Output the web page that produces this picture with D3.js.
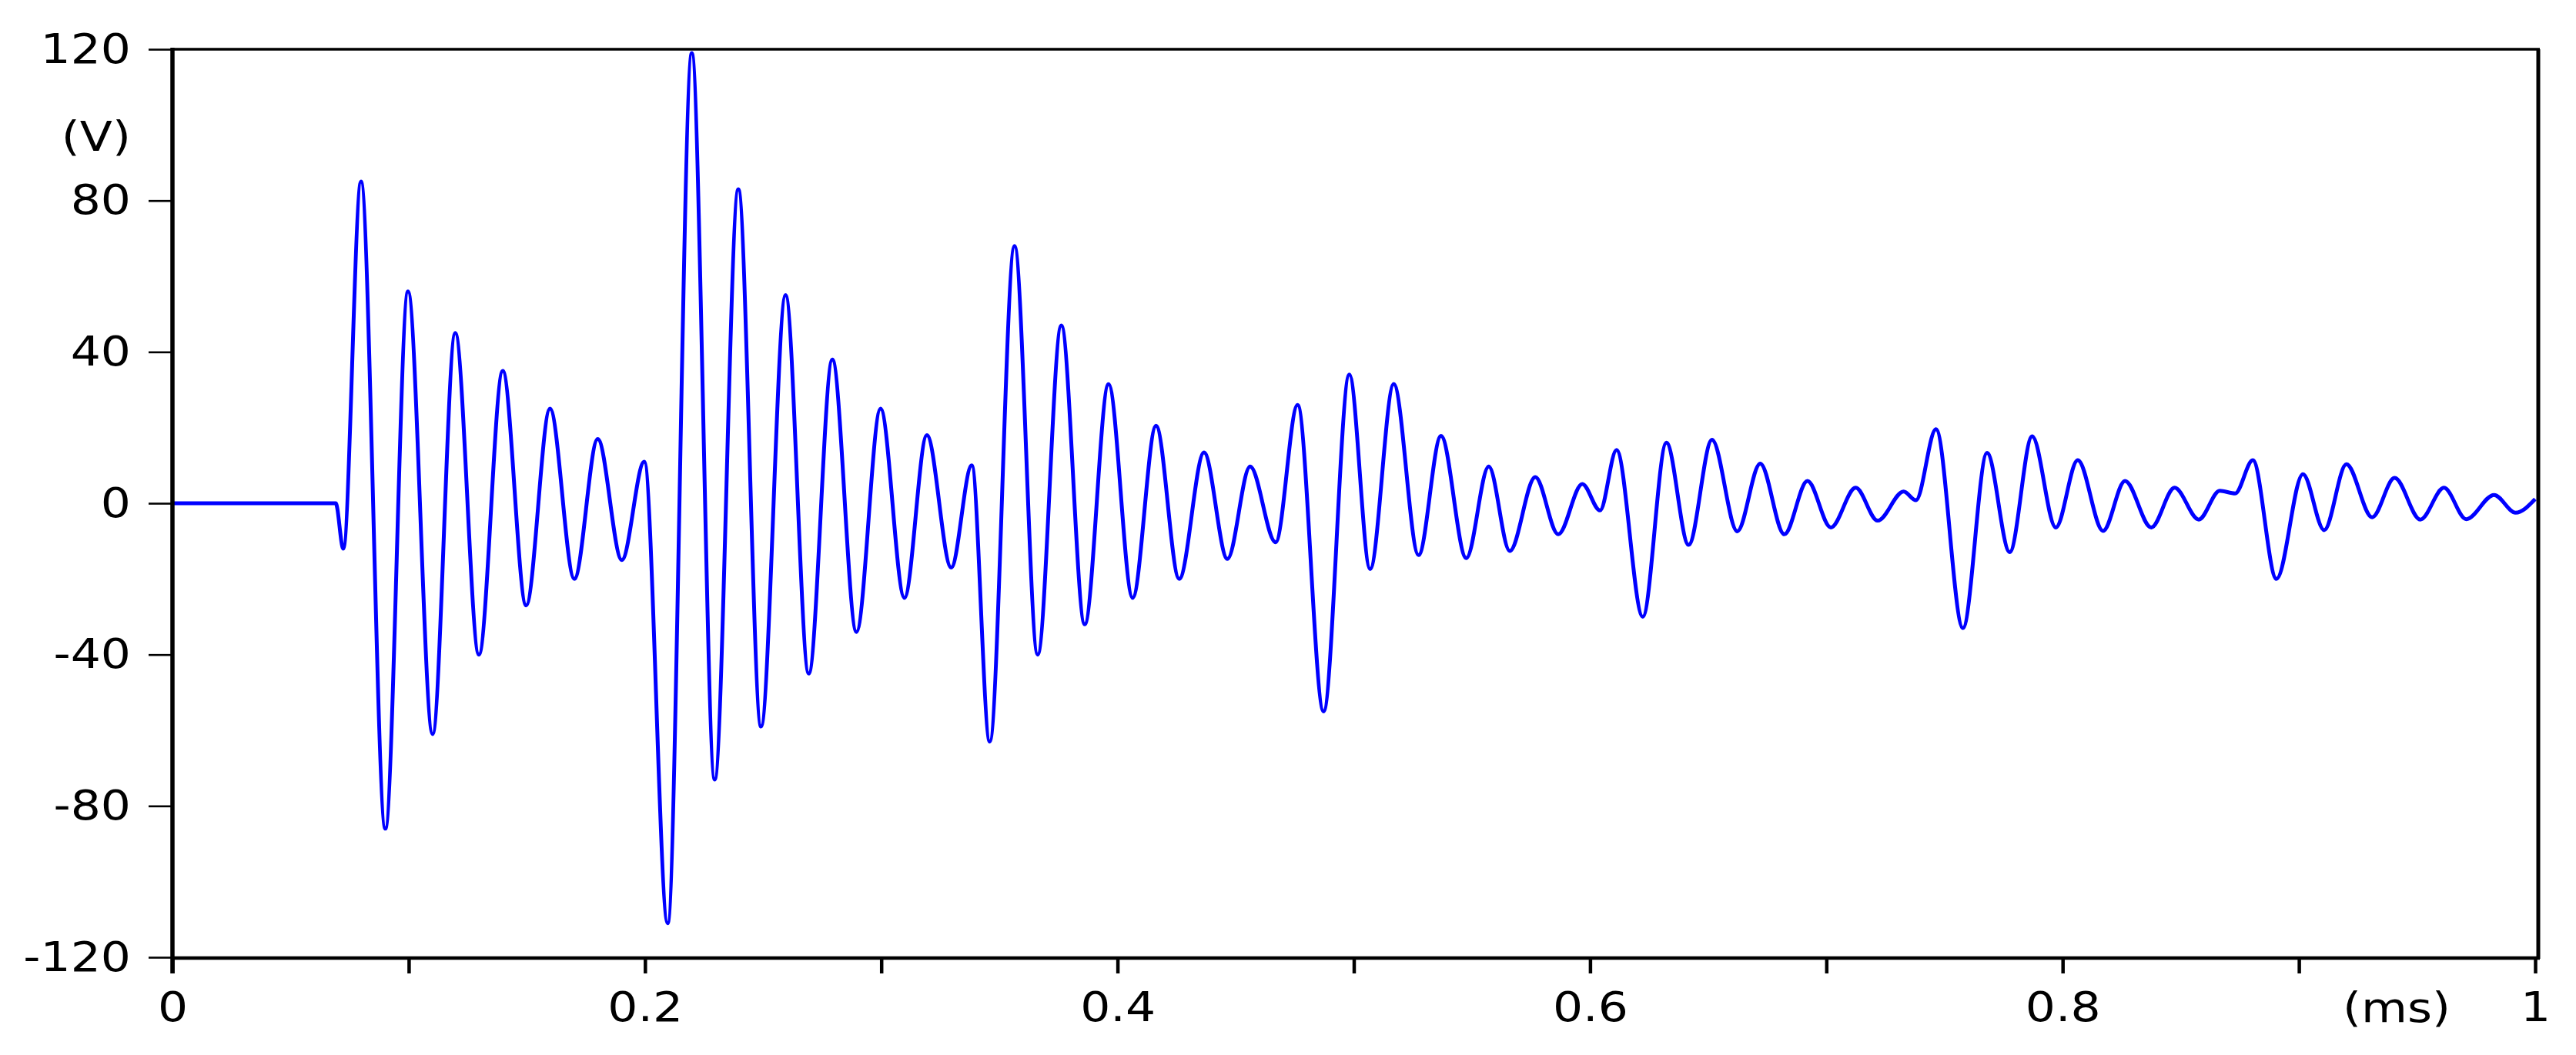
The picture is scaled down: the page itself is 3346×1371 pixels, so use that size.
<!DOCTYPE html>
<html>
<head>
<meta charset="utf-8">
<script src="https://cdn.jsdelivr.net/npm/d3@7"></script>
<style>
  html, body { margin: 0; padding: 0; background: #ffffff; }
  svg { display: block; }
</style>
</head>
<body>
<svg id="chart" width="3346" height="1371"></svg>
<script>
// ---- data ----
const timeMs = [0, 0.0691, 0.0723, 0.0798, 0.0901, 0.0997, 0.1101, 0.1197, 0.1297, 0.1398,
  0.1497, 0.1598, 0.1701, 0.1800, 0.1902, 0.1997, 0.2096, 0.2198, 0.2295, 0.2395,
  0.2491, 0.2595, 0.2693, 0.2793, 0.2895, 0.2997, 0.3098, 0.3193, 0.3296, 0.3383,
  0.3459, 0.3564, 0.3662, 0.3762, 0.3861, 0.3962, 0.4064, 0.4163, 0.4261, 0.4366,
  0.4465, 0.4561, 0.4669, 0.4762, 0.4872, 0.4981, 0.5069, 0.5169, 0.5274, 0.5369,
  0.5476, 0.5571, 0.5660, 0.5768, 0.5865, 0.5967, 0.6042, 0.6112, 0.6223, 0.6323,
  0.6417, 0.6516, 0.6623, 0.6720, 0.6822, 0.6920, 0.7019, 0.7124, 0.7217, 0.7327,
  0.7379, 0.7464, 0.7578, 0.7680, 0.7776, 0.7871, 0.7971, 0.8064, 0.8171, 0.8264,
  0.8375, 0.8474, 0.8576, 0.8665, 0.8730, 0.8805, 0.8905, 0.9017, 0.9107, 0.9201,
  0.9310, 0.9405, 0.9514, 0.9614, 0.9708, 0.9826, 0.9917, 1.0];

const voltage = [0, 0, -12, 85, -86, 56, -61, 45, -40, 35,
  -27, 25, -20, 17, -15, 11, -111, 119, -73, 83,
  -59, 55, -45, 38, -34, 25, -25, 18, -17, 10,
  -63, 68, -40, 47, -32, 31.5, -25, 20.5, -20, 13.4,
  -14.7, 9.7, -10.3, 26, -55, 34, -17.4, 31.5, -13.7, 17.8,
  -14.5, 9.7, -12.6, 6.9, -8.2, 5.1, -1.9, 14.1, -30, 16,
  -11, 16.8, -7.4, 10.5, -8.2, 5.9, -6.4, 4.1, -4.6, 3.1,
  0.8, 19.6, -33, 13.3, -12.9, 17.7, -6.4, 11.4, -7.3, 5.9,
  -6.4, 4.1, -4.3, 3.3, 2.6, 11.4, -20, 7.7, -7.1, 10.3,
  -3.7, 6.7, -4.3, 4.1, -4.2, 2.2, -2.5, 1.1];

const xTickValues = [0, 0.1, 0.2, 0.3, 0.4, 0.5, 0.6, 0.7, 0.8, 0.9, 1];
const xLabelValues = [0, 0.2, 0.4, 0.6, 0.8, 1];
const xLabelTexts = ["0", "0.2", "0.4", "0.6", "0.8", "1"];
const yTickValues = [-120, -80, -40, 0, 40, 80, 120];
const yLabelTexts = ["-120", "-80", "-40", "0", "40", "80", "120"];
const xUnit = "(ms)";
const yUnit = "(V)";

// ---- layout ----
const svg = d3.select("#chart");
const plotLeft = 224, plotRight = 3293, plotTop = 64, plotBottom = 1244;
const FONT = "'DejaVu Sans', Verdana, sans-serif";
const FS = 54;
const STRETCH = 1.14;

const x = d3.scaleLinear().domain([0, 1]).range([plotLeft, plotRight]);
const y = d3.scaleLinear().domain([-120, 120]).range([plotBottom, plotTop]);

svg.append("rect").attr("width", 3346).attr("height", 1371).attr("fill", "#fff");

// waveform
const pts = timeMs.map((t, i) => [t, voltage[i]]);
const line = d3.line().x(d => x(d[0])).y(d => y(d[1])).curve(d3.curveMonotoneX);
svg.append("path")
  .datum(pts)
  .attr("d", line)
  .attr("fill", "none")
  .attr("stroke", "#0000ff")
  .attr("stroke-width", 5)
  .attr("stroke-linejoin", "round");

// axes
const xAxis = d3.axisBottom(x)
  .tickValues(xTickValues)
  .tickSize(21)
  .tickSizeOuter(0)
  .tickPadding(24)
  .tickFormat(d => {
    const k = xLabelValues.findIndex(v => Math.abs(v - d) < 1e-9);
    return k >= 0 ? xLabelTexts[k] : "";
  });

const gx = svg.append("g").attr("transform", `translate(0,${plotBottom})`).call(xAxis);
gx.select(".domain").remove();
gx.selectAll(".tick line").attr("stroke", "#000").attr("stroke-width", 4.5);
gx.selectAll(".tick text").attr("fill", "#000").attr("font-family", FONT).attr("font-size", FS);

const yAxis = d3.axisLeft(y)
  .tickValues(yTickValues)
  .tickSize(31)
  .tickSizeOuter(0)
  .tickPadding(23)
  .tickFormat((d, i) => yLabelTexts[i]);

const gy = svg.append("g").attr("transform", `translate(${plotLeft},0)`).call(yAxis);
gy.select(".domain").remove();
gy.selectAll(".tick line").attr("stroke", "#000").attr("stroke-width", 2.6);
gy.selectAll(".tick text").attr("fill", "#000").attr("font-family", FONT).attr("font-size", FS);

// frame
const frame = svg.append("g").attr("stroke", "#000").attr("fill", "none");
frame.append("line").attr("x1", plotLeft).attr("x2", plotRight + 6).attr("y1", plotTop).attr("y2", plotTop).attr("stroke-width", 3.5);
frame.append("line").attr("x1", plotRight + 4).attr("x2", plotRight + 4).attr("y1", plotTop).attr("y2", plotBottom + 2).attr("stroke-width", 5);
frame.append("line").attr("x1", plotLeft).attr("x2", plotRight + 6).attr("y1", plotBottom + 1).attr("y2", plotBottom + 1).attr("stroke-width", 4.5);
frame.append("line").attr("x1", plotLeft).attr("x2", plotLeft).attr("y1", plotTop - 2).attr("y2", plotBottom + 21).attr("stroke-width", 5.5);

// unit labels
svg.append("text").attr("x", 170).attr("y", 196)
  .attr("text-anchor", "end").attr("font-family", FONT).attr("font-size", FS).attr("fill", "#000")
  .text(yUnit);
svg.append("text").attr("x", 3113).attr("y", 1328)
  .attr("text-anchor", "middle").attr("font-family", FONT).attr("font-size", FS).attr("fill", "#000")
  .text(xUnit);

// slightly widen glyphs to match the reference's horizontally stretched text
svg.selectAll("text").each(function () {
  const w = this.getComputedTextLength();
  if (w > 0) {
    this.setAttribute("textLength", w * STRETCH);
    this.setAttribute("lengthAdjust", "spacingAndGlyphs");
  }
});
</script>
</body>
</html>
